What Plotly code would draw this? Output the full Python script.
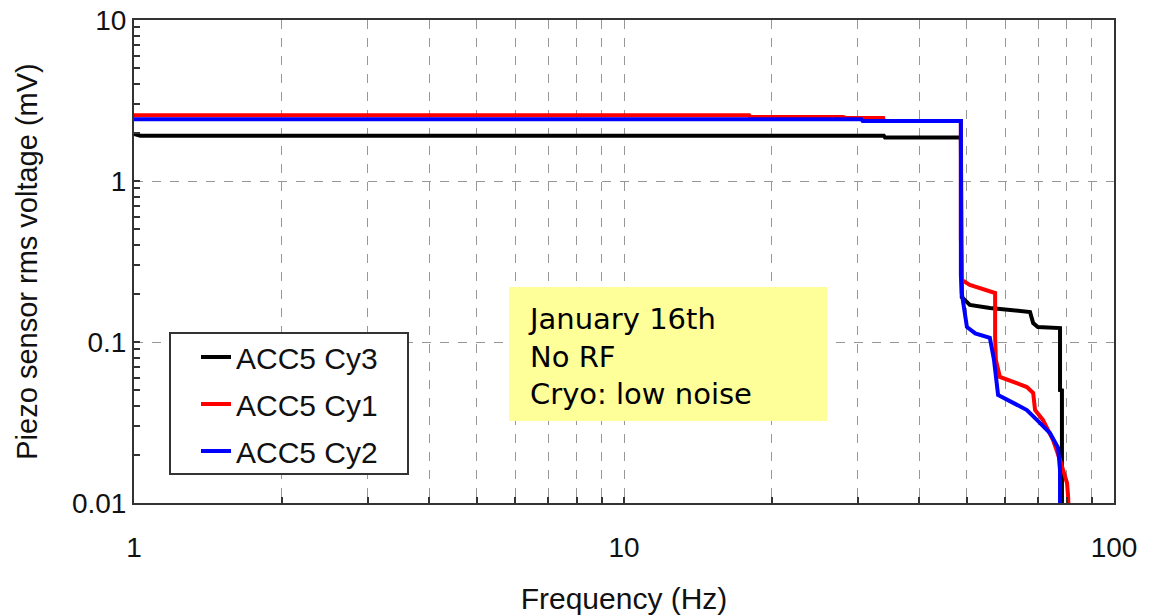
import plotly.graph_objects as go

# ---- data ----
names = ["ACC5 Cy3", "ACC5 Cy1", "ACC5 Cy2"]
colors = ["#000000", "#FF0000", "#0000FF"]

f_cy3 = [1, 1.03, 33.9, 34.1, 48.7, 48.7, 48.8, 48.9, 50.8, 55.8, 67.4, 68.4, 69.9, 76.9, 77.6, 77.6, 78.3, 78.3]
v_cy3 = [1.96, 1.91, 1.91, 1.86, 1.86, 0.373, 0.323, 0.190, 0.170, 0.1626, 0.1536, 0.131, 0.124, 0.122, 0.122, 0.0503, 0.050, 0.009]

f_cy1 = [1, 18.0, 18.1, 28.0, 28.5, 33.8, 33.9, 48.7, 48.7, 48.9, 50.8, 55.1, 57.2, 57.2, 57.4, 58.5, 66.4, 68.4, 69.0, 71.6, 75.1, 77.6, 80.2, 80.6, 80.8]
v_cy1 = [2.56, 2.56, 2.50, 2.50, 2.46, 2.46, 2.36, 2.36, 0.443, 0.243, 0.226, 0.210, 0.2015, 0.1074, 0.0773, 0.0607, 0.0525, 0.0482, 0.0378, 0.0328, 0.0246, 0.0185, 0.0133, 0.0110, 0.009]

f_cy2 = [1, 30.5, 30.7, 48.7, 48.7, 48.9, 50.1, 52.1, 55.8, 56.9, 58.0, 66.4, 69.6, 74.0, 76.9, 77.6, 77.6]
v_cy2 = [2.42, 2.42, 2.36, 2.36, 0.26, 0.2015, 0.124, 0.113, 0.106, 0.0773, 0.0469, 0.0378, 0.0328, 0.0272, 0.0220, 0.016, 0.009]

x_major = [1, 10, 100]
x_major_text = ["1", "10", "100"]
x_minor = [2, 3, 4, 5, 6, 7, 8, 9, 20, 30, 40, 50, 60, 70, 80, 90]
y_major = [0.01, 0.1, 1, 10]
y_major_text = ["0.01", "0.1", "1", "10"]
y_minor = [m * d for d in (0.01, 0.1, 1) for m in range(2, 10)]

note_lines = ["January 16th", "No RF", "Cryo: low noise"]

FONT = "Arial, Liberation Sans, sans-serif"

# layout geometry (pixels)
W, H = 1154, 616
ML, MR, MT, MB = 134, 40, 20, 113
PW, PH = W - ML - MR, H - MT - MB


def px(x):
    return (x - ML) / PW


def py(y):
    return (H - MB - y) / PH


fig = go.Figure()
for i, (fx, vy) in enumerate([(f_cy3, v_cy3), (f_cy1, v_cy1), (f_cy2, v_cy2)]):
    fig.add_trace(go.Scatter(x=fx, y=vy, mode="lines", name=names[i],
                             legendgroup=names[i],
                             line=dict(color=colors[i], width=4)))

grid_col = "rgba(140,140,140,0.9)"
fig.update_xaxes(
    type="log", range=[0, 2], automargin=False,
    tickvals=x_major, ticktext=x_major_text,
    ticks="inside", ticklen=6, tickcolor="#333", tickwidth=1.5,
    ticklabelstandoff=18,
    showline=True, linecolor="#333", linewidth=2, mirror=True,
    showgrid=True, gridcolor=grid_col, griddash="dash", gridwidth=1,
    minor=dict(tickvals=x_minor, ticks="inside", ticklen=6, tickcolor="#333",
               showgrid=True, gridcolor=grid_col, griddash="dash", gridwidth=1),
    tickfont=dict(family=FONT, size=28, color="#111"),
    title=dict(text="Frequency (Hz)", font=dict(family=FONT, size=30, color="#111"), standoff=26),
    zeroline=False,
)
fig.update_yaxes(
    type="log", range=[-2, 1], automargin=False,
    tickvals=y_major, ticktext=y_major_text,
    ticks="inside", ticklen=6, tickcolor="#333", tickwidth=1.5,
    showline=True, linecolor="#333", linewidth=2, mirror=True,
    showgrid=True, gridcolor=grid_col, griddash="dash", gridwidth=1,
    minor=dict(tickvals=y_minor, ticks="inside", ticklen=6, tickcolor="#333", showgrid=False),
    tickfont=dict(family=FONT, size=28, color="#111"),
    title=dict(text="Piezo sensor rms voltage (mV)", font=dict(family=FONT, size=29, color="#111"), standoff=26),
    zeroline=False,
)

# note box
fig.add_shape(type="rect", xref="paper", yref="paper",
              x0=px(509), x1=px(827), y0=py(421), y1=py(287),
              fillcolor="#FFFF99", line=dict(width=0), layer="above")
fig.add_annotation(
    xref="paper", yref="paper", x=px(526), y=py(300), xanchor="left", yanchor="top",
    text="<br>".join(note_lines), showarrow=False, align="left",
    font=dict(family="DejaVu Sans, Verdana, sans-serif", size=29, color="#000"),
)

# legend frame
fig.add_shape(type="rect", xref="paper", yref="paper",
              x0=px(170), x1=px(408), y0=py(474), y1=py(333),
              fillcolor="white", line=dict(color="#333", width=2), layer="above")

fig.update_layout(
    width=W, height=H,
    margin=dict(l=ML, r=MR, t=MT, b=MB),
    paper_bgcolor="white", plot_bgcolor="white",
    showlegend=True,
    legend=dict(x=px(196), y=py(331), xanchor="left", yanchor="top",
                bgcolor="rgba(0,0,0,0)", borderwidth=0,
                font=dict(family=FONT, size=30, color="#111"),
                itemwidth=30, tracegroupgap=5),
)

fig.write_html("out.html")
